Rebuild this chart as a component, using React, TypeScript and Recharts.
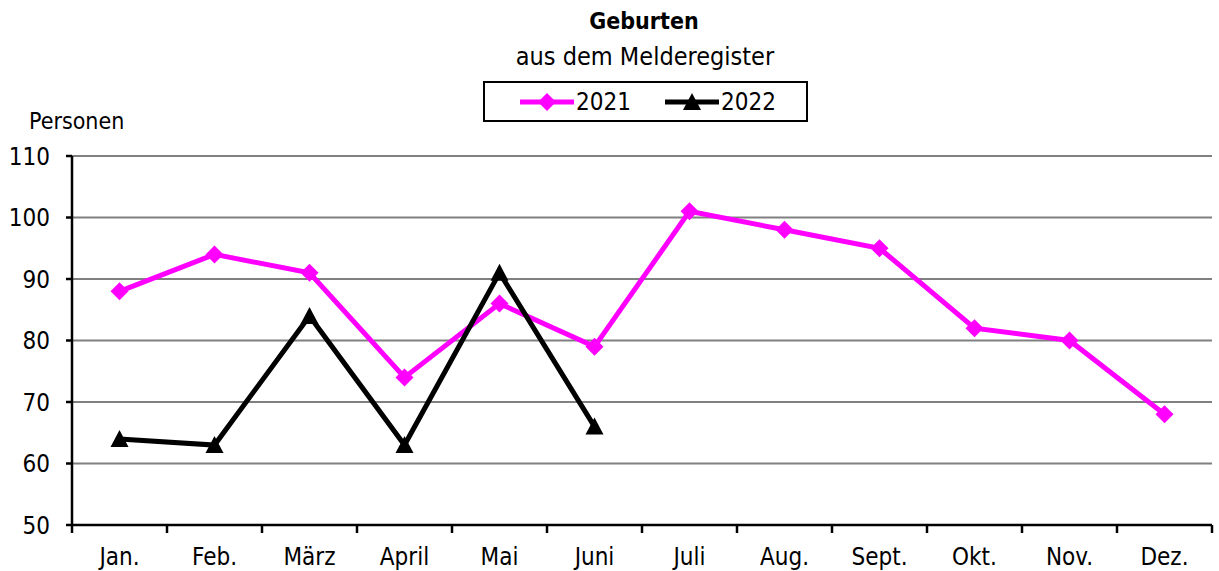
import React from 'react';
import { LineChart, Line, XAxis, YAxis, CartesianGrid } from 'recharts';

const months = ['Jan.', 'Feb.', 'März', 'April', 'Mai', 'Juni', 'Juli', 'Aug.', 'Sept.', 'Okt.', 'Nov.', 'Dez.'];
const births2021 = [88, 94, 91, 74, 86, 79, 101, 98, 95, 82, 80, 68];
const births2022 = [64, 63, 84, 63, 91, 66];
const yTicks = [50, 60, 70, 80, 90, 100, 110];

const data = months.map((name, i) => ({
  m: i + 1,
  name,
  y2021: births2021[i],
  y2022: i < births2022.length ? births2022[i] : null,
}));

// boundaries between months, for the tick marks under the x axis
const boundaries = [0, ...data.map((d) => d.m)].map((v) => v + 0.5);

const FONT = '"DejaVu Sans Condensed", "Liberation Sans Narrow", sans-serif';
const PINK = '#FF00FF';

const Diamond = (props: any) => {
  const { cx, cy } = props;
  if (cx == null || cy == null) return null;
  const r = 9;
  return <polygon points={`${cx},${cy - r} ${cx + r},${cy} ${cx},${cy + r} ${cx - r},${cy}`} fill={PINK} />;
};

const Triangle = (props: any) => {
  const { cx, cy } = props;
  if (cx == null || cy == null) return null;
  return <polygon points={`${cx},${cy - 9} ${cx + 9},${cy + 8} ${cx - 9},${cy + 8}`} fill="#000" />;
};

const LegendBox = () => (
  <div
    style={{
      position: 'absolute',
      left: 483,
      top: 81,
      width: 321,
      height: 37,
      border: '2px solid #000',
      display: 'flex',
      alignItems: 'center',
      fontFamily: FONT,
      fontSize: 24,
      color: '#000',
      zIndex: 2,
    }}
  >
    <svg width={58} height={20} style={{ marginLeft: 33 }}>
      <line x1={2} y1={10} x2={56} y2={10} stroke={PINK} strokeWidth={5} />
      <polygon points="29,1 38,10 29,19 20,10" fill={PINK} />
    </svg>
    <span>2021</span>
    <svg width={58} height={20} style={{ marginLeft: 32 }}>
      <line x1={2} y1={10} x2={56} y2={10} stroke="#000" strokeWidth={5} />
      <polygon points="29,1 38,18 20,18" fill="#000" />
    </svg>
    <span>2022</span>
  </div>
);

export default function App() {
  return (
    <div style={{ position: 'absolute', left: 0, top: 0, width: 1219, height: 571, background: '#fff' }}>
      <div style={{ position: 'absolute', top: 8, left: 0, width: 1288, textAlign: 'center', fontFamily: FONT, fontSize: 23, fontWeight: 'bold', color: '#000' }}>
        Geburten
      </div>
      <div style={{ position: 'absolute', top: 42, left: 0, width: 1290, textAlign: 'center', fontFamily: FONT, fontSize: 25, color: '#000' }}>
        aus dem Melderegister
      </div>
      <div style={{ position: 'absolute', top: 108, left: 29, fontFamily: FONT, fontSize: 23, color: '#000' }}>
        Personen
      </div>
      <LegendBox />
      <LineChart
        width={1219}
        height={571}
        data={data}
        margin={{ top: 156, right: 7, left: 10, bottom: 6 }}
        style={{ fontFamily: FONT }}
      >
        <CartesianGrid vertical={false} stroke="#808080" strokeWidth={2} />
        <XAxis
          xAxisId="bounds"
          dataKey="m"
          type="number"
          domain={[0.5, 12.5]}
          ticks={boundaries}
          interval={0}
          height={1}
          tickFormatter={() => ''}
          tickSize={8}
          axisLine={{ stroke: '#000', strokeWidth: 2.5 }}
          tickLine={{ stroke: '#000', strokeWidth: 2.5 }}
        />
        <XAxis
          xAxisId="main"
          dataKey="m"
          type="number"
          domain={[0.5, 12.5]}
          ticks={data.map((d) => d.m)}
          tickFormatter={(v: number) => months[v - 1]}
          height={39}
          tickSize={0}
          tickMargin={22}
          axisLine={false}
          tickLine={false}
          interval={0}
          tick={{ fill: '#000', fontSize: 24, fontFamily: FONT }}
        />
        <YAxis
          domain={[50, 110]}
          ticks={yTicks}
          width={62}
          tickSize={6}
          tickMargin={16}
          axisLine={{ stroke: '#000', strokeWidth: 2.5 }}
          tickLine={{ stroke: '#000', strokeWidth: 2.5 }}
          tick={{ fill: '#000', fontSize: 24, fontFamily: FONT }}
          interval={0}
        />
        <Line
          xAxisId="main"
          dataKey="y2021"
          name="2021"
          stroke={PINK}
          strokeWidth={5}
          dot={<Diamond />}
          activeDot={false}
          isAnimationActive={false}
        />
        <Line
          xAxisId="main"
          dataKey="y2022"
          name="2022"
          stroke="#000"
          strokeWidth={5}
          dot={<Triangle />}
          activeDot={false}
          isAnimationActive={false}
        />
      </LineChart>
    </div>
  );
}
